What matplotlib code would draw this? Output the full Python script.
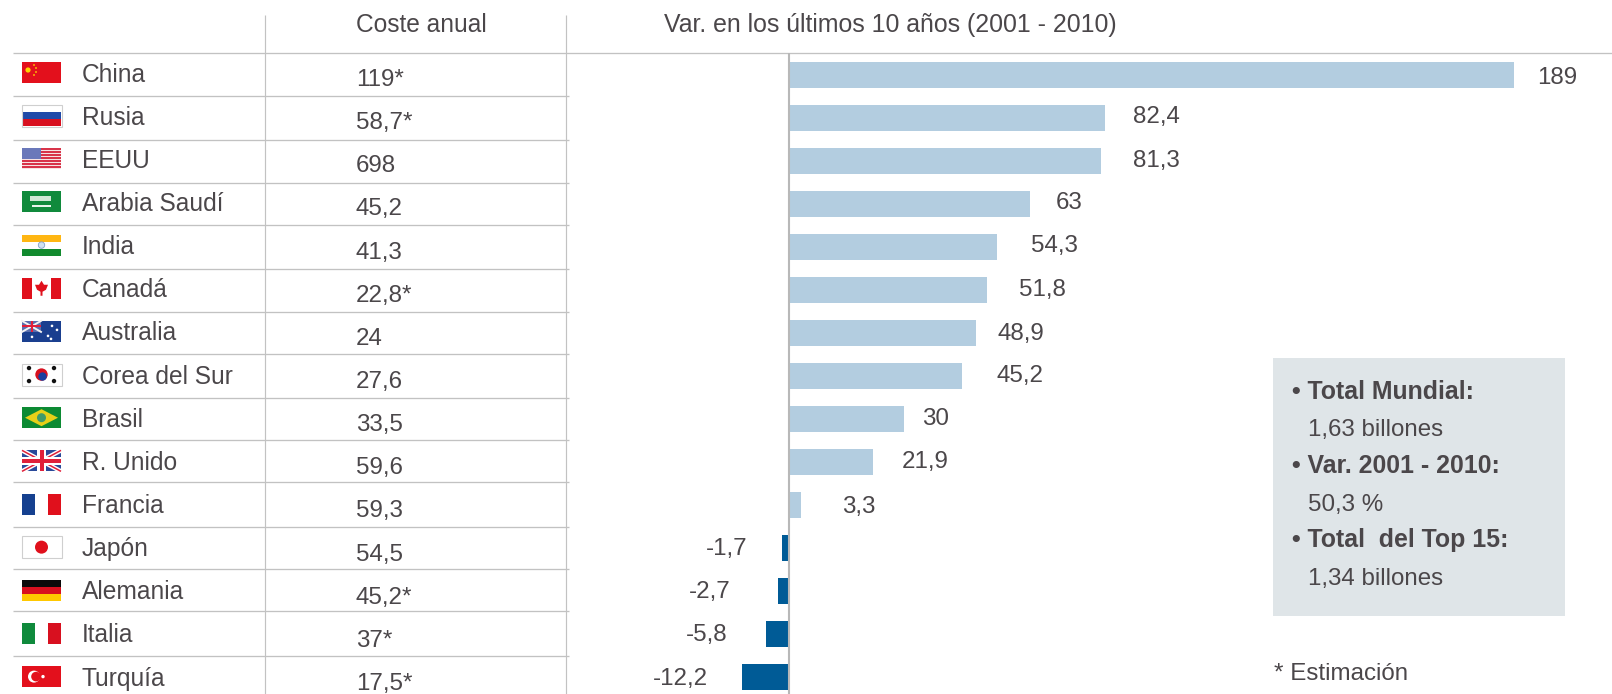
import matplotlib
matplotlib.use("Agg")
import matplotlib.pyplot as plt
from matplotlib.patches import Rectangle, Circle, Polygon

plt.rcParams['font.family'] = ['Liberation Sans', 'DejaVu Sans']

countries = ["China", "Rusia", "EEUU", "Arabia Saudí", "India", "Canadá", "Australia",
             "Corea del Sur", "Brasil", "R. Unido", "Francia", "Japón", "Alemania", "Italia", "Turquía"]
annual_cost = ["119*", "58,7*", "698", "45,2", "41,3", "22,8*", "24", "27,6", "33,5", "59,6",
               "59,3", "54,5", "45,2*", "37*", "17,5*"]
variation = [189, 82.4, 81.3, 63, 54.3, 51.8, 48.9, 45.2, 30, 21.9, 3.3, -1.7, -2.7, -5.8, -12.2]
variation_labels = ["189", "82,4", "81,3", "63", "54,3", "51,8", "48,9", "45,2", "30", "21,9",
                    "3,3", "-1,7", "-2,7", "-5,8", "-12,2"]
label_gaps_px = [23, 28, 32, 25, 34, 32, 21, 34, 18, 29, 41, 34, 48, 39, 34]
label_nudge_px = [-2, 2, 1, 2, 2, 1, 0, 1, 1, 1, -1, 0, 0, 0, -1]
headers = ["Coste anual", "Var. en los últimos 10 años (2001 - 2010)"]
summary = [("• Total Mundial:", True), ("1,63 billones", False), ("• Var. 2001 - 2010:", True),
           ("50,3 %", False), ("• Total  del Top 15:", True), ("1,34 billones", False)]
footnote = "* Estimación"

W, H = 1612, 694
TXT = "#4b474a"
LINE = "#c2c2c2"
FS = 17.4
fig = plt.figure(figsize=(W / 100, H / 100), dpi=100, facecolor="white")

# pixel-space layer for the table
ax = fig.add_axes([0, 0, 1, 1])
ax.set_xlim(0, W)
ax.set_ylim(H, 0)
ax.axis("off")

row_lines = [52.5, 95.5, 139.5, 182.5, 224.5, 268.5, 311.5, 353.5, 397.5, 439.5, 481.5, 526.5, 568.5, 610.5, 655.5]
for i, y in enumerate(row_lines):
    ax.plot([12.5, W if i == 0 else 569], [y, y], color=LINE, lw=0.95, solid_capstyle="butt", zorder=1)
for x in (265, 566):
    ax.plot([x, x], [14.5, H], color=LINE, lw=0.85, solid_capstyle="butt", zorder=1)


def t(x, y, s, **kw):
    kw.setdefault("color", TXT)
    kw.setdefault("fontsize", FS)
    ax.text(x, y, s, va="baseline", ha=kw.pop("ha", "left"), **kw)


t(356, 32, headers[0], fontsize=FS * 1.015)
t(664, 32, headers[1], fontsize=FS * 1.03)

for i, (name, cost) in enumerate(zip(countries, annual_cost)):
    yc = 73 + 43.15 * i
    t(81.5, yc + 8.5, name, fontsize=FS * 1.015)
    t(356, yc + 13, cost)


# flags (decorative, drawn as patches in pixel space)
def rect(x, y, w, h, c, z=3):
    ax.add_patch(Rectangle((x, y), w, h, fc=c, ec="none", zorder=z))


def stripes_h(x, y, w, h, cols, frac=None):
    frac = frac or [1 / len(cols)] * len(cols)
    yy = y
    for c, f in zip(cols, frac):
        rect(x, yy, w, h * f, c)
        yy += h * f


def stripes_v(x, y, w, h, cols, frac=None):
    frac = frac or [1 / len(cols)] * len(cols)
    xx = x
    for c, f in zip(cols, frac):
        rect(xx, y, w * f, h, c)
        xx += w * f


def flag(i):
    n = countries[i]
    x, w, h = 22, 39, 21
    y = 62 + 43.15 * i
    if n in ("Rusia", "Corea del Sur", "Japón"):
        ax.add_patch(Rectangle((x - .5, y - .5), w + 1, h + 1, fc="none", ec="#cfcfcf", lw=.8, zorder=4))
    if n == "China":
        rect(x, y, w, h, "#e3101c")
        ax.add_patch(Circle((x + 6, y + 8), 2.6, fc="#ffd400", ec="none", zorder=4))
        for dx, dy in [(12, 3), (14, 6), (14, 10), (12, 13)]:
            ax.add_patch(Circle((x + dx, y + dy), .9, fc="#ffd400", ec="none", zorder=4))
    elif n == "Rusia":
        stripes_h(x, y, w, h, ["#ffffff", "#1f4aa8", "#d8101f"])
    elif n == "EEUU":
        for k in range(7):
            rect(x, y + k * h / 7, w, h / 14, "#d8344a")
            rect(x, y + k * h / 7 + h / 14, w, h / 14, "#f6e3e3")
        rect(x, y, 19, 11, "#6a78ba")
    elif n == "Arabia Saudí":
        rect(x, y, w, h, "#108a3c")
        rect(x + 8, y + 5, 21, 5, "#cfe8d6", 4)
        rect(x + 10, y + 14, 19, 1.2, "#e8f4ec", 4)
    elif n == "India":
        stripes_h(x, y, w, h, ["#ffb612", "#ffffff", "#118a2e"])
        ax.add_patch(Circle((x + w / 2, y + h / 2), 3.2, fc="#cfe0f0", ec="#7f9fc8", lw=.6, zorder=4))
    elif n == "Canadá":
        stripes_v(x, y, w, h, ["#e0101c", "#ffffff", "#e0101c"], [.25, .5, .25])
        ax.add_patch(Polygon([(x + 19.5, y + 3), (x + 22, y + 7), (x + 26, y + 7), (x + 24, y + 12),
                              (x + 20.5, y + 14), (x + 20.5, y + 18), (x + 18.5, y + 18), (x + 18.5, y + 14),
                              (x + 15, y + 12), (x + 13, y + 7), (x + 17, y + 7)],
                             fc="#e0101c", ec="none", zorder=4))
    elif n == "Australia":
        rect(x, y, w, h, "#1a3f8f")
        rect(x, y, 19, 11, "#5b6fae", 4)
        ax.plot([x, x + 19], [y, y + 11], color="#f2f2f2", lw=1.4, zorder=5)
        ax.plot([x, x + 19], [y + 11, y], color="#f2f2f2", lw=1.4, zorder=5)
        rect(x, y + 4.5, 19, 2, "#e0203a", 6)
        rect(x + 8.5, y, 2, 11, "#e0203a", 6)
        for dx, dy in [(10, 16), (26, 15), (30, 5), (35, 9), (29, 18)]:
            ax.add_patch(Circle((x + dx, y + dy), 1.3, fc="white", ec="none", zorder=4))
    elif n == "Corea del Sur":
        rect(x, y, w, h, "#ffffff")
        ax.add_patch(Circle((x + w / 2, y + h / 2), 6.2, fc="#d8101f", ec="none", zorder=4))
        ax.add_patch(Circle((x + w / 2 + 1, y + h / 2 + 2), 4.2, fc="#1a3f9f", ec="none", zorder=5))
        for dx, dy in [(7, 4), (32, 4), (7, 17), (32, 17)]:
            ax.add_patch(Circle((x + dx, y + dy), 2.2, fc="#111111", ec="none", zorder=4))
    elif n == "Brasil":
        rect(x, y, w, h, "#0c8a33")
        ax.add_patch(Polygon([(x + 3, y + h / 2), (x + w / 2, y + 2), (x + w - 3, y + h / 2), (x + w / 2, y + h - 2)],
                             fc="#e6d018", ec="none", zorder=4))
        ax.add_patch(Circle((x + w / 2, y + h / 2), 4.5, fc="#3f9a6a", ec="none", zorder=5))
    elif n == "R. Unido":
        rect(x, y, w, h, "#2a4a9a")
        ax.plot([x, x + w], [y, y + h], color="white", lw=3.2, zorder=4, solid_capstyle="butt")
        ax.plot([x, x + w], [y + h, y], color="white", lw=3.2, zorder=4, solid_capstyle="butt")
        ax.plot([x, x + w], [y, y + h], color="#e0203a", lw=1.1, zorder=5, solid_capstyle="butt")
        ax.plot([x, x + w], [y + h, y], color="#e0203a", lw=1.1, zorder=5, solid_capstyle="butt")
        rect(x, y + 6.5, w, 8, "white", 6)
        rect(x + 15, y, 9, h, "white", 6)
        rect(x, y + 8.5, w, 4, "#e0203a", 7)
        rect(x + 17.5, y, 4, h, "#e0203a", 7)
    elif n == "Francia":
        stripes_v(x, y, w, h, ["#15408f", "#ffffff", "#e0101c"])
    elif n == "Japón":
        rect(x, y, w, h, "#ffffff")
        ax.add_patch(Circle((x + w / 2, y + h / 2), 6.5, fc="#e0101c", ec="none", zorder=4))
    elif n == "Alemania":
        stripes_h(x, y, w, h, ["#0a0a0a", "#d8101f", "#ffc800"])
    elif n == "Italia":
        stripes_v(x, y, w, h, ["#0f8a3c", "#ffffff", "#d8101f"])
    elif n == "Turquía":
        rect(x, y, w, h, "#e3101c")
        ax.add_patch(Circle((x + 12, y + h / 2), 6, fc="white", ec="none", zorder=4))
        ax.add_patch(Circle((x + 14, y + h / 2), 4.8, fc="#e3101c", ec="none", zorder=5))
        ax.add_patch(Circle((x + 21, y + h / 2), 1.7, fc="white", ec="none", zorder=5))


for i in range(len(countries)):
    flag(i)

# bar axes: zero at x=788.5 px, 3.84 px per unit, row spacing 43.03 px
ZERO, PPU = 788.5, 3.84
SP, Y0 = 43.03, 75
left, right = 600, W
top_px, bot_px = 53, H
bx = fig.add_axes([left / W, 1 - bot_px / H, (right - left) / W, (bot_px - top_px) / H])
bx.set_xlim((left - ZERO) / PPU, (right - ZERO) / PPU)
bx.set_ylim((bot_px - Y0) / SP, (top_px - Y0) / SP)
bx.patch.set_alpha(0)
bx.axis("off")
rows = list(range(len(variation)))
colors = ["#b3cde0" if v >= 0 else "#005b96" for v in variation]
bx.barh(rows, variation, height=26 / SP, color=colors, linewidth=0, zorder=2)
bx.axvline(0, color="#b8b8b8", lw=1.5, zorder=3)
for r, v, s, g, d in zip(rows, variation, variation_labels, label_gaps_px, label_nudge_px):
    off = g if v >= 0 else -g
    bx.annotate(s, (v, r), xytext=(off * 0.72, (d - 0.5) * 0.72), textcoords="offset points",
                ha="left" if v >= 0 else "right", va="center", fontsize=FS, color=TXT)

# summary box
ax.add_patch(Rectangle((1273, 358), 292, 258, fc="#dfe5e8", ec="none", zorder=1))
for (s, bold), yb in zip(summary, [398.5, 436, 473, 510.5, 547, 584.5]):
    if bold:
        t(1292, yb, s, fontweight="bold", fontsize=FS * 1.03)
    else:
        t(1308, yb, s, fontsize=FS * 1.0)
t(1274, 680.5, footnote, fontsize=FS * 1.0)

fig.savefig("out.png", dpi=100, facecolor="white")
